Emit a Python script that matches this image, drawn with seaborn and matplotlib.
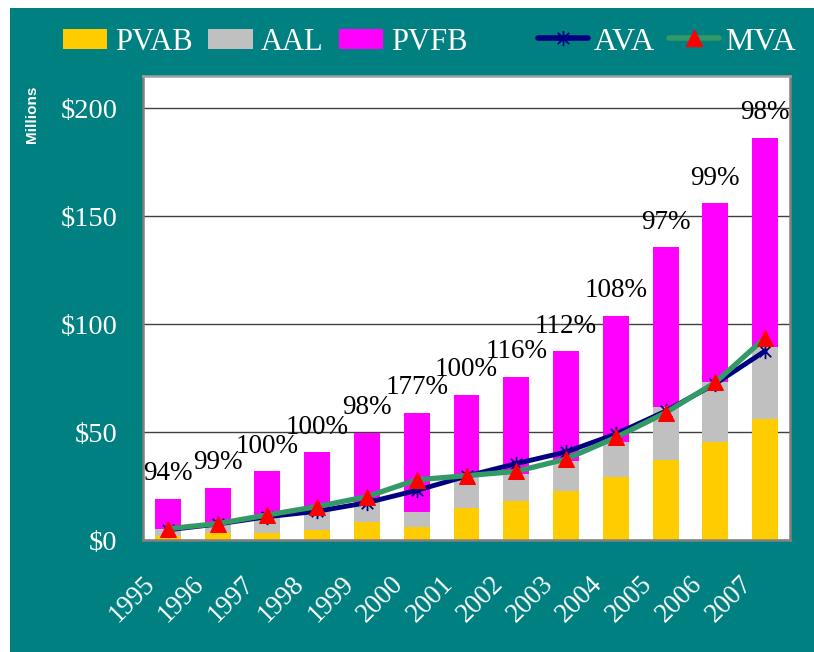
import numpy as np
import pandas as pd
import matplotlib
matplotlib.use("Agg")
import matplotlib.pyplot as plt
from matplotlib.patches import Patch, Rectangle
from matplotlib.lines import Line2D
from matplotlib.path import Path
from matplotlib.transforms import ScaledTranslation
import seaborn as sns

# ---- data ----
years = ["1995", "1996", "1997", "1998", "1999", "2000", "2001",
         "2002", "2003", "2004", "2005", "2006", "2007"]
pvfb = [19.0, 24.3, 31.8, 40.6, 49.6, 59.0, 67.4, 75.7, 87.4, 103.8, 135.7, 156.1, 186.3]
aal = [5.0, 7.5, 10.8, 13.3, 17.7, 13.0, 29.6, 30.5, 36.4, 45.5, 61.5, 73.1, 89.4]
pvab = [2.0, 3.1, 3.2, 4.8, 8.5, 5.8, 15.0, 18.1, 22.8, 29.3, 37.3, 45.5, 56.1]
ava = [4.7, 7.4, 10.8, 13.3, 17.3, 23.0, 29.6, 35.4, 40.8, 49.1, 59.7, 72.4, 87.6]
mva = [5.2, 7.6, 11.6, 15.5, 20.1, 27.9, 29.8, 31.8, 37.5, 47.5, 59.0, 73.0, 93.7]
ratio_labels = ["94%", "99%", "100%", "100%", "98%", "177%", "100%",
                "116%", "112%", "108%", "97%", "99%", "98%"]
ytick_vals = [0, 50, 100, 150, 200]
ytick_labels = ["$0", "$50", "$100", "$150", "$200"]

TEAL = "#008080"
YEL = "#FFCC00"
GRAY = "#C0C0C0"
MAG = "#FF00FF"
NAVY = "#000080"
GREEN = "#339966"
RED = "#FF0000"

STAR = Path([(0, -1), (0, 1), (-0.75, -0.75), (0.75, 0.75), (-0.75, 0.75), (0.75, -0.75)],
            [Path.MOVETO, Path.LINETO, Path.MOVETO, Path.LINETO, Path.MOVETO, Path.LINETO])

sns.set_style("white")
plt.rcParams["font.family"] = ["Liberation Serif", "DejaVu Serif"]

W, H = 814, 652
fig = plt.figure(figsize=(W / 100, H / 100), dpi=100, facecolor="white")
bg = Rectangle((10 / W, 0), (W - 10) / W, (H - 8) / H,
               transform=fig.transFigure, facecolor=TEAL,
               edgecolor="none", zorder=-10)
fig.patches.append(bg)

ax = fig.add_axes([143 / W, (H - 540) / H, (790 - 143) / W, (540 - 76) / H])
ax.set_zorder(1)
ax.set_facecolor("white")

df = pd.DataFrame({"year": years, "pvfb": pvfb, "aal": aal, "pvab": pvab,
                   "ava": ava, "mva": mva})
df["pos"] = np.arange(len(df))

for col, c in [("pvfb", MAG), ("aal", GRAY), ("pvab", YEL)]:
    sns.barplot(data=df, x="year", y=col, color=c, width=0.52, saturation=1,
                edgecolor="none", linewidth=0, ax=ax, zorder=2)

sns.lineplot(data=df, x="pos", y="ava", color=NAVY, linewidth=3.5,
             marker=STAR, markersize=11, markeredgecolor=NAVY,
             markeredgewidth=1.3, sort=False, ax=ax, zorder=4)
sns.lineplot(data=df, x="pos", y="mva", color=GREEN, linewidth=3.8,
             marker="^", markersize=11, markerfacecolor=RED,
             markeredgecolor=RED, sort=False, ax=ax, zorder=5)

for i, (v, t) in enumerate(zip(pvfb, ratio_labels)):
    ax.annotate(t, (i, v), xytext=(0, 18), textcoords="offset points",
                ha="center", va="center", fontsize=19.5, color="black",
                zorder=6)

ax.set_xlim(-0.5, len(years) - 0.5)
ax.set_ylim(0, 215)
ax.set_xlabel("")
ax.set_ylabel("")
ax.set_yticks(ytick_vals)
ax.set_yticklabels(ytick_labels)
ax.yaxis.grid(True, color="#404040", linewidth=1)
ax.set_axisbelow(True)
ax.tick_params(axis="y", length=0, pad=18.5, labelsize=20.5, labelcolor="white")
ax.tick_params(axis="x", length=0, pad=28.8, labelsize=19.5, labelcolor="white")
ax.set_xticks(np.arange(len(years)))
ax.set_xticklabels(years, rotation=45, ha="right", va="center",
                   rotation_mode="anchor")
off = ScaledTranslation(-17 / 100, 0, fig.dpi_scale_trans)
for lab in ax.get_xticklabels():
    lab.set_transform(lab.get_transform() + off)

for s in ax.spines.values():
    s.set_visible(True)
    s.set_color("#808080")
    s.set_linewidth(1.8)
ax.spines["top"].set_color("#A0A0A0")

fig.text(32 / W, (H - 114) / H, "Millions", rotation=90, ha="center",
         va="center", color="white", fontsize=11, fontweight="bold",
         family=["Liberation Sans", "DejaVu Sans"])

bar_handles = [Patch(facecolor=YEL, edgecolor="none"),
               Patch(facecolor=GRAY, edgecolor="none"),
               Patch(facecolor=MAG, edgecolor="none")]
leg1 = fig.legend(bar_handles, ["PVAB", "AAL", "PVFB"], loc="center left",
                  bbox_to_anchor=(63 / W, (H - 42) / H), ncol=3, frameon=False,
                  fontsize=22, labelcolor="white", handlelength=1.45,
                  handleheight=0.65, handletextpad=0.27, columnspacing=0.5,
                  borderpad=0, borderaxespad=0)
line_handles = [Line2D([], [], color=NAVY, lw=4, marker=STAR, ms=11,
                       mec=NAVY, mew=1.3),
                Line2D([], [], color=GREEN, lw=4, marker="^", ms=11,
                       mfc=RED, mec=RED)]
leg2 = fig.legend(line_handles, ["AVA", "MVA"], loc="center right",
                  bbox_to_anchor=(796 / W, (H - 42) / H), ncol=2, frameon=False,
                  fontsize=23, labelcolor="white", handlelength=1.55,
                  handletextpad=0.2, columnspacing=0.45,
                  borderpad=0, borderaxespad=0)

fig.savefig("out.png", dpi=100, facecolor=fig.get_facecolor())
